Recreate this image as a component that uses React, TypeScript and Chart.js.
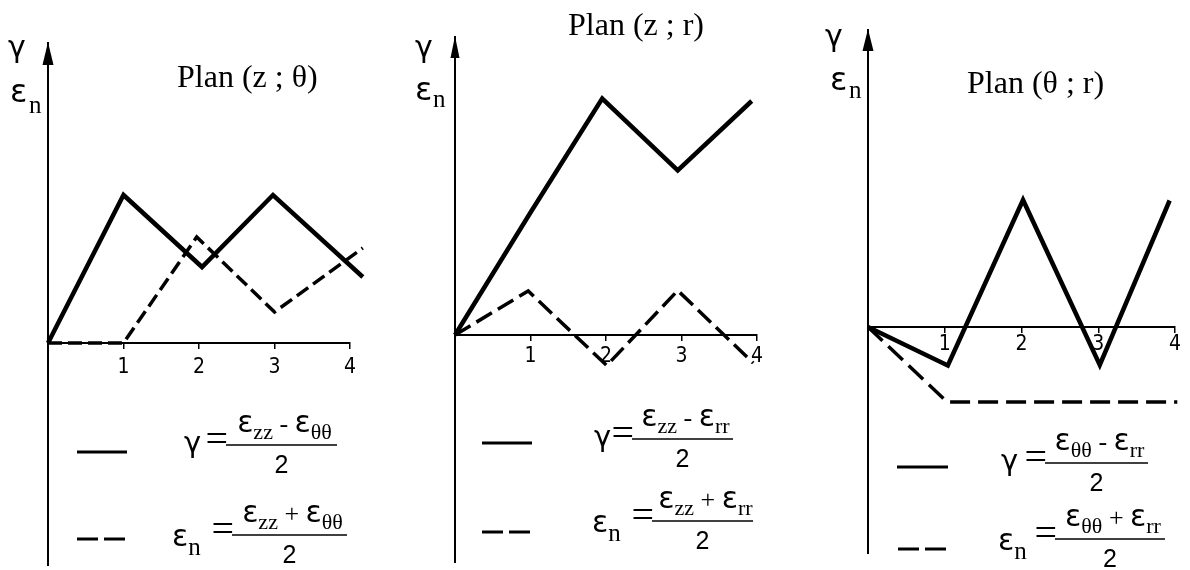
import React, { useEffect, useRef } from "react";
import { Chart, registerables } from "chart.js";

Chart.register(...registerables);

// ---------------- data ----------------
const xTickValues = [0, 1, 2, 3, 4];

// Plan (z ; θ)
const p1GammaX = [0, 1, 2.04, 2.98, 4.17];
const p1GammaY = [0, 2.96, 1.52, 2.96, 1.32];
const p1EpsX = [0, 1, 1.97, 3, 4.17];
const p1EpsY = [0, 0, 2.12, 0.62, 1.9];

// Plan (z ; r)
const p2GammaX = [0, 1, 1.95, 2.95, 3.93];
const p2GammaY = [0, 2.45, 4.73, 3.29, 4.68];
const p2EpsX = [0, 0.97, 2.01, 2.95, 3.95];
const p2EpsY = [0, 0.88, -0.61, 0.89, -0.56];

// Plan (θ ; r)
const p3GammaX = [0, 1.04, 2.02, 3.02, 3.93];
const p3GammaY = [0, -0.77, 2.54, -0.76, 2.53];
const p3EpsX = [0, 1.03, 4.03];
const p3EpsY = [0, -1.5, -1.5];

const panelTitles = ["Plan (z ; θ)", "Plan (z ; r)", "Plan (θ ; r)"];
const panelSubs = [
  ["zz", "θθ"],
  ["zz", "rr"],
  ["θθ", "rr"],
];

// ---------------- layout / style ----------------
const SERIF = '"Liberation Serif", "Times New Roman", serif';
const GREEK = '"DejaVu Sans", "Liberation Sans", sans-serif';
const SANS = '"Liberation Sans", Arial, sans-serif';
const NARROW = '"Liberation Sans Narrow", "DejaVu Sans Condensed", "Liberation Sans", sans-serif';

type Formula = {
  kind: "gamma" | "epsn";
  lhsX: number;
  lineY: number;
  lineX0: number;
  lineX1: number;
  op: string;
};

type Panel = {
  left: number;
  width: number;
  pad: { left: number; right: number; top: number; bottom: number };
  yMin: number;
  yMax: number;
  tickPad: number;
  dash: number[];
  gx: number[];
  gy: number[];
  ex: number[];
  ey: number[];
  title: string;
  titleX: number;
  titleY: number;
  gammaLabel: [number, number];
  epsLabel: [number, number, number, number];
  arrowHalf: number;
  arrowH: number;
  legSolid: [number, number, number];
  legDash: [number, number, number];
  f1: Formula;
  f2: Formula;
  subs: string[];
};

const panels: Panel[] = [
  {
    left: 0, width: 400,
    pad: { left: 48, right: 50, top: 43, bottom: 5 },
    yMin: -4.44, yMax: 6, tickPad: 7, dash: [14, 6],
    gx: p1GammaX, gy: p1GammaY, ex: p1EpsX, ey: p1EpsY,
    title: panelTitles[0], titleX: 177, titleY: 87,
    gammaLabel: [8, 57], epsLabel: [10, 102, 29, 113],
    arrowHalf: 5.5, arrowH: 22,
    legSolid: [77, 127, 452], legDash: [77, 125, 539],
    f1: { kind: "gamma", lhsX: 184, lineY: 445, lineX0: 226, lineX1: 337, op: "-" },
    f2: { kind: "epsn", lhsX: 172, lineY: 535, lineX0: 232, lineX1: 347, op: "+" },
    subs: panelSubs[0],
  },
  {
    left: 400, width: 390,
    pad: { left: 55, right: 33, top: 37, bottom: 8 },
    yMin: -4.54, yMax: 5.96, tickPad: 4, dash: [18, 7],
    gx: p2GammaX, gy: p2GammaY, ex: p2EpsX, ey: p2EpsY,
    title: panelTitles[1], titleX: 568, titleY: 35,
    gammaLabel: [415, 57], epsLabel: [415, 100, 433, 107],
    arrowHalf: 4.5, arrowH: 21,
    legSolid: [482, 532, 443], legDash: [482, 531, 532],
    f1: { kind: "gamma", lhsX: 594, lineY: 439, lineX0: 632, lineX1: 733, op: "-" },
    f2: { kind: "epsn", lhsX: 592, lineY: 521, lineX0: 652, lineX1: 753, op: "+" },
    subs: panelSubs[1],
  },
  {
    left: 790, width: 400,
    pad: { left: 78, right: 15, top: 30, bottom: 17 },
    yMin: -4.52, yMax: 5.94, tickPad: 0, dash: [20, 8],
    gx: p3GammaX, gy: p3GammaY, ex: p3EpsX, ey: p3EpsY,
    title: panelTitles[2], titleX: 967, titleY: 93,
    gammaLabel: [825, 46], epsLabel: [830, 90, 849, 98],
    arrowHalf: 5.5, arrowH: 21,
    legSolid: [897, 948, 467], legDash: [898, 947, 549],
    f1: { kind: "gamma", lhsX: 1001, lineY: 463, lineX0: 1045, lineX1: 1148, op: "-" },
    f2: { kind: "epsn", lhsX: 998, lineY: 539, lineX0: 1055, lineX1: 1165, op: "+" },
    subs: panelSubs[2],
  },
];

const EPS_FONT = `30px ${GREEK}`;
const GAMMA_FONT = `29px ${GREEK}`;
const SUB_FONT = `22px ${SERIF}`;
const SUBN_FONT = `25px ${SERIF}`;
const EQ_FONT = `40px ${SERIF}`;
const OP_FONT = `26px ${SERIF}`;
const DEN_FONT = `25px ${SANS}`;
const TITLE_FONT = `32px ${SERIF}`;

type Run = { t: string; font: string; dy?: number };

function runsWidth(ctx: CanvasRenderingContext2D, runs: Run[]) {
  let w = 0;
  for (const r of runs) {
    ctx.font = r.font;
    w += ctx.measureText(r.t).width;
  }
  return w;
}

function drawRuns(ctx: CanvasRenderingContext2D, runs: Run[], x: number, y: number) {
  let cx = x;
  ctx.textAlign = "left";
  ctx.textBaseline = "alphabetic";
  for (const r of runs) {
    ctx.font = r.font;
    ctx.fillText(r.t, cx, y + (r.dy || 0));
    cx += ctx.measureText(r.t).width;
  }
  return cx;
}

function drawFormula(ctx: CanvasRenderingContext2D, f: Formula, subs: string[], ox: number) {
  ctx.fillStyle = "#000";
  ctx.strokeStyle = "#000";
  const lx0 = f.lineX0 - ox;
  const lx1 = f.lineX1 - ox;
  if (f.kind === "gamma") {
    drawRuns(ctx, [{ t: "γ", font: GAMMA_FONT }], f.lhsX - ox, f.lineY + 7);
  } else {
    drawRuns(ctx, [{ t: "ε", font: EPS_FONT }, { t: "n", font: SUBN_FONT, dy: 9 }], f.lhsX - ox, f.lineY + 11);
  }
  ctx.font = EQ_FONT;
  ctx.textAlign = "right";
  ctx.textBaseline = "alphabetic";
  ctx.fillText("=", lx0 + 2, f.lineY + 7);
  ctx.lineWidth = 1.5;
  ctx.setLineDash([]);
  ctx.beginPath();
  ctx.moveTo(lx0, f.lineY);
  ctx.lineTo(lx1, f.lineY);
  ctx.stroke();
  const num: Run[] = [
    { t: "ε", font: EPS_FONT },
    { t: subs[0], font: SUB_FONT, dy: 7 },
    { t: f.op === "-" ? " - " : " + ", font: OP_FONT },
    { t: "ε", font: EPS_FONT },
    { t: subs[1], font: SUB_FONT, dy: 7 },
  ];
  const w = runsWidth(ctx, num);
  drawRuns(ctx, num, (lx0 + lx1) / 2 - w / 2 + 3, f.lineY - 13);
  ctx.font = DEN_FONT;
  ctx.textAlign = "center";
  ctx.fillText("2", (lx0 + lx1) / 2, f.lineY + 28);
}

function makeDecorPlugin(p: Panel) {
  return {
    id: "decor",
    afterDraw(chart: any) {
      const ctx: CanvasRenderingContext2D = chart.ctx;
      const ox = p.left;
      const xs = chart.scales.x;
      const ax = xs.getPixelForValue(0);
      const top = chart.chartArea.top;
      ctx.save();
      ctx.fillStyle = "#000";
      ctx.strokeStyle = "#000";
      // arrow head on the y axis
      ctx.beginPath();
      ctx.moveTo(ax, top - 1);
      ctx.lineTo(ax - p.arrowHalf, top + p.arrowH);
      ctx.lineTo(ax + p.arrowHalf, top + p.arrowH);
      ctx.closePath();
      ctx.fill();
      // axis labels
      drawRuns(ctx, [{ t: "γ", font: `30px ${GREEK}` }], p.gammaLabel[0] - ox, p.gammaLabel[1]);
      drawRuns(ctx, [{ t: "ε", font: `32px ${GREEK}` }], p.epsLabel[0] - ox, p.epsLabel[1]);
      drawRuns(ctx, [{ t: "n", font: SUBN_FONT }], p.epsLabel[2] - ox, p.epsLabel[3]);
      // title
      ctx.font = TITLE_FONT;
      ctx.textAlign = "left";
      ctx.fillText(p.title, p.titleX - ox, p.titleY);
      // legend samples
      ctx.lineWidth = 3;
      ctx.setLineDash([]);
      ctx.beginPath();
      ctx.moveTo(p.legSolid[0] - ox, p.legSolid[2]);
      ctx.lineTo(p.legSolid[1] - ox, p.legSolid[2]);
      ctx.stroke();
      ctx.setLineDash([21, 6]);
      ctx.beginPath();
      ctx.moveTo(p.legDash[0] - ox, p.legDash[2]);
      ctx.lineTo(p.legDash[1] - ox, p.legDash[2]);
      ctx.stroke();
      ctx.setLineDash([]);
      drawFormula(ctx, p.f1, p.subs, ox);
      drawFormula(ctx, p.f2, p.subs, ox);
      ctx.restore();
    },
  };
}

function PanelChart({ p }: { p: Panel }) {
  const ref = useRef<HTMLCanvasElement | null>(null);
  useEffect(() => {
    if (!ref.current) return;
    const gammaData = p.gx.map((x, i) => ({ x, y: p.gy[i] }));
    const epsData = p.ex.map((x, i) => ({ x, y: p.ey[i] }));
    const chart = new Chart(ref.current, {
      type: "line",
      data: {
        datasets: [
          {
            label: "γ",
            data: gammaData,
            borderColor: "#000",
            borderWidth: 4.5,
            pointRadius: 0,
            tension: 0,
            fill: false,
            clip: false as any,
            borderJoinStyle: "miter",
            borderCapStyle: "butt",
          },
          {
            label: "εn",
            data: epsData,
            borderColor: "#000",
            borderWidth: 3.5,
            borderDash: p.dash,
            pointRadius: 0,
            tension: 0,
            fill: false,
            clip: false as any,
            borderJoinStyle: "miter",
            borderCapStyle: "butt",
          },
        ],
      },
      options: {
        responsive: false,
        maintainAspectRatio: false,
        animation: false,
        events: [],
        layout: { padding: p.pad },
        plugins: {
          legend: { display: false },
          tooltip: { enabled: false },
          title: { display: false },
        },
        scales: {
          x: {
            type: "linear",
            min: 0,
            max: 4,
            position: { y: 0 } as any,
            afterBuildTicks: (scale: any) => {
              scale.ticks = xTickValues.map((v) => ({ value: v }));
            },
            grid: {
              display: true,
              drawOnChartArea: false,
              drawTicks: true,
              tickLength: 5,
              color: "#000",
              lineWidth: 1.5,
            },
            border: { display: true, color: "#000", width: 2 },
            ticks: {
              color: "#000",
              padding: p.tickPad,
              font: { family: NARROW, size: 21 },
              maxRotation: 0,
              callback: (v: any) => (v === 0 ? "" : String(v)),
            },
          },
          y: {
            type: "linear",
            min: p.yMin,
            max: p.yMax,
            position: { x: 0 } as any,
            grid: { display: false },
            border: { display: true, color: "#000", width: 2 },
            ticks: { display: false },
          },
        },
      },
      plugins: [makeDecorPlugin(p)],
    } as any);
    return () => chart.destroy();
  }, [p]);
  return (
    <div style={{ position: "absolute", left: p.left, top: 0, width: p.width, height: 570 }}>
      <canvas ref={ref} width={p.width} height={570} style={{ width: p.width, height: 570, display: "block" }} />
    </div>
  );
}

export default function App() {
  return (
    <div style={{ position: "absolute", left: 0, top: 0, width: 1190, height: 570, background: "#fff", overflow: "hidden" }}>
      {panels.map((p, i) => (
        <PanelChart key={i} p={p} />
      ))}
    </div>
  );
}
